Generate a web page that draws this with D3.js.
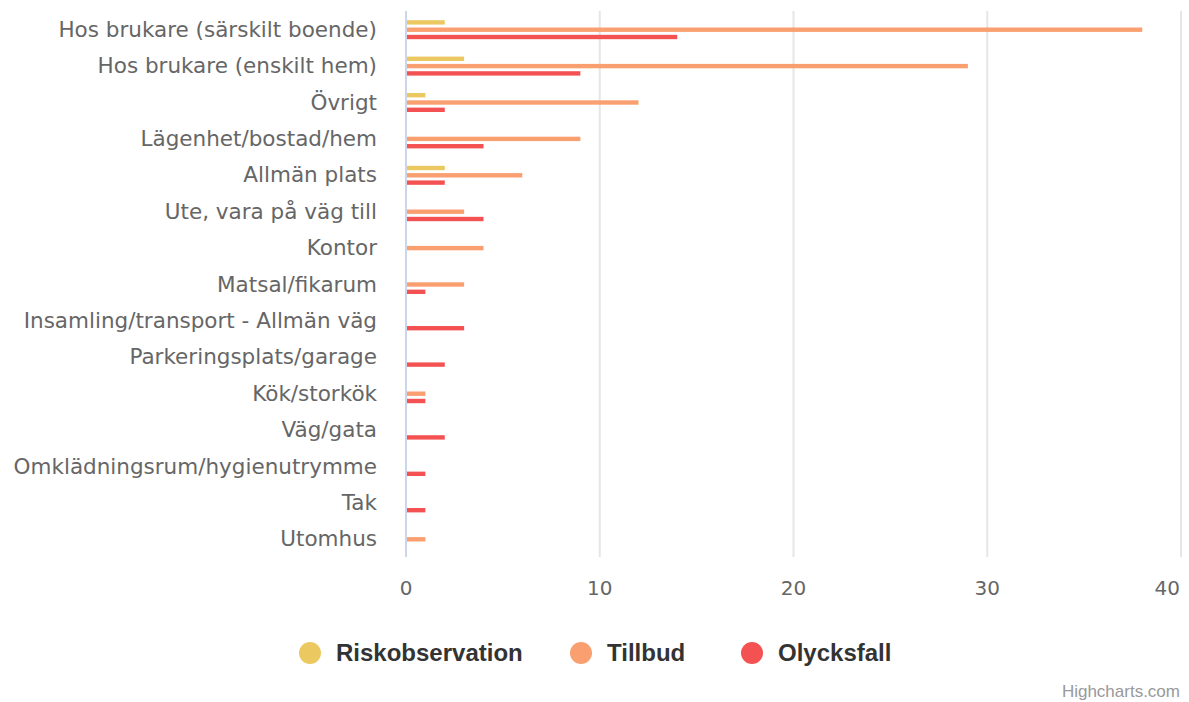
<!DOCTYPE html>
<meta charset="utf-8">
<script src="https://d3js.org/d3.v7.min.js"></script>
<style>
  body { margin: 0; background: #fff; }
</style>
<div id="my_dataviz"></div>
<script>

  // categories (top to bottom) and series values
  var categories = ["Hos brukare (särskilt boende)", "Hos brukare (enskilt hem)", "Övrigt",
    "Lägenhet/bostad/hem", "Allmän plats", "Ute, vara på väg till", "Kontor", "Matsal/fikarum",
    "Insamling/transport - Allmän väg", "Parkeringsplats/garage", "Kök/storkök", "Väg/gata",
    "Omklädningsrum/hygienutrymme", "Tak", "Utomhus"];
  var seriesNames = ["Riskobservation", "Tillbud", "Olycksfall"];
  var riskobservation = [2, 3, 1, 0, 2, 0, 0, 0, 0, 0, 0, 0, 0, 0, 0];
  var tillbud = [38, 29, 12, 9, 6, 3, 4, 3, 0, 0, 1, 0, 0, 0, 1];
  var olycksfall = [14, 9, 2, 4, 2, 4, 0, 1, 3, 2, 1, 2, 1, 1, 0];
  var xTicks = [0, 10, 20, 30, 40];
  var colors = ["#ebc960", "#fa9f70", "#f45252"];

  var seriesValues = [riskobservation, tillbud, olycksfall];

  var W = 1189, H = 702;
  var margin = { top: 11, right: 8, bottom: 145, left: 406 },
    width = W - margin.left - margin.right,
    height = H - margin.top - margin.bottom;

  var svg = d3.select("#my_dataviz")
    .append("svg")
    .attr("width", W)
    .attr("height", H);

  var g = svg.append("g")
    .attr("transform", "translate(" + margin.left + "," + margin.top + ")");

  var x = d3.scaleLinear().domain([0, 40]).range([0, width]);

  // category bands and the small group of three bars inside each
  var groupH = 19;
  var y0 = d3.scaleBand().domain(categories).range([0, height]);
  var y1 = d3.scaleBand().domain(seriesNames).range([0, groupH]).paddingInner(0.4);

  // grid lines
  g.selectAll(".grid")
    .data(xTicks.slice(1))
    .enter().append("line")
    .attr("x1", function (d) { return x(d); })
    .attr("x2", function (d) { return x(d); })
    .attr("y1", 0)
    .attr("y2", height)
    .attr("stroke", "#e6e6e6")
    .attr("stroke-width", 2);

  // bars
  seriesNames.forEach(function (name, si) {
    g.selectAll(".bar" + si)
      .data(seriesValues[si].map(function (v, i) { return { cat: categories[i], v: v }; })
        .filter(function (d) { return d.v > 0; }))
      .enter().append("rect")
      .attr("x", 0)
      .attr("y", function (d) { return y0(d.cat) + (y0.bandwidth() - groupH) / 2 + 0.5 + y1(name); })
      .attr("width", function (d) { return x(d.v); })
      .attr("height", y1.bandwidth())
      .attr("fill", colors[si]);
  });

  // left axis line
  g.append("line")
    .attr("x1", 0).attr("x2", 0)
    .attr("y1", 0).attr("y2", height)
    .attr("stroke", "#ccd6eb")
    .attr("stroke-width", 2);

  var labelFont = "'DejaVu Sans', Verdana, sans-serif";

  // category labels
  g.selectAll(".cat")
    .data(categories)
    .enter().append("text")
    .attr("x", -29)
    .attr("y", function (d) { return y0(d) + y0.bandwidth() / 2; })
    .attr("dy", "0.35em")
    .attr("text-anchor", "end")
    .style("font-family", labelFont)
    .style("font-size", "21.5px")
    .style("fill", "#666")
    .text(function (d) { return d; });

  // x tick labels (last one kept inside the chart, like Highcharts does)
  g.selectAll(".tick")
    .data(xTicks)
    .enter().append("text")
    .attr("x", function (d, i) { return i === xTicks.length - 1 ? x(d) - 1 : x(d); })
    .attr("y", height + 38)
    .attr("text-anchor", function (d, i) { return i === xTicks.length - 1 ? "end" : "middle"; })
    .style("font-family", labelFont)
    .style("font-size", "20px")
    .style("fill", "#666")
    .text(function (d) { return d; });

  // legend
  var legendX = [310, 581, 752];
  var legend = svg.selectAll(".legend")
    .data(seriesNames)
    .enter().append("g")
    .attr("transform", function (d, i) { return "translate(" + legendX[i] + ",653)"; });
  legend.append("circle")
    .attr("r", 11)
    .attr("fill", function (d, i) { return colors[i]; });
  legend.append("text")
    .attr("x", 26)
    .attr("dy", "0.35em")
    .style("font-family", "'Liberation Sans Narrow', 'Liberation Sans', sans-serif")
    .style("font-weight", "bold")
    .style("font-size", "24px")
    .style("fill", "#333")
    .text(function (d) { return d; });

  // credits
  svg.append("text")
    .attr("x", 1180)
    .attr("y", 697)
    .attr("text-anchor", "end")
    .style("font-family", "'Liberation Sans Narrow', 'Liberation Sans', sans-serif")
    .style("font-size", "17px")
    .style("fill", "#999")
    .text("Highcharts.com");

</script>
